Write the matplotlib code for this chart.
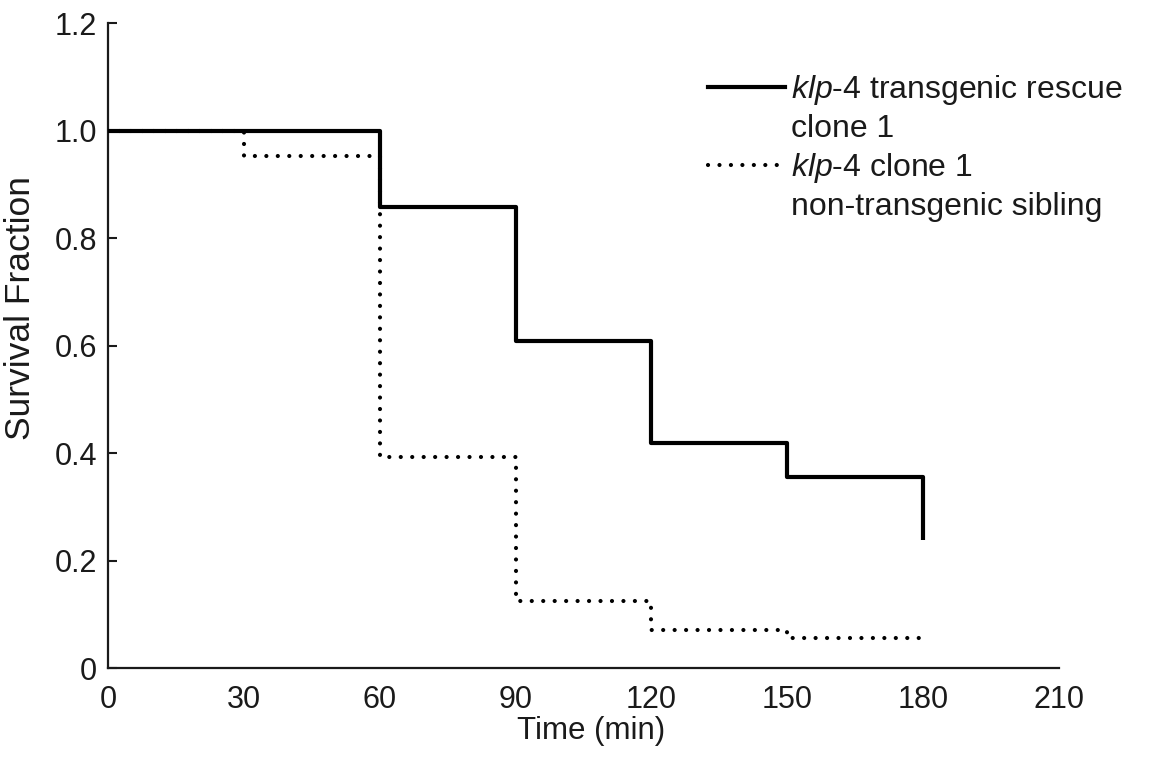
import matplotlib
matplotlib.use("Agg")
import matplotlib.pyplot as plt
from matplotlib.lines import Line2D

plt.rcParams['font.family'] = ['Liberation Sans', 'DejaVu Sans']
plt.rcParams['mathtext.fontset'] = 'custom'
plt.rcParams['mathtext.it'] = 'Liberation Sans:italic'
plt.rcParams['mathtext.rm'] = 'Liberation Sans'

# Data
rescue_time = [0, 60, 90, 120, 150, 180]
rescue_surv = [1.0, 0.857, 0.608, 0.419, 0.356, 0.239]
sibling_time = [0, 30, 60, 90, 120, 150, 180]
sibling_surv = [1.0, 0.952, 0.393, 0.125, 0.071, 0.056, 0.048]

x_ticks = [0, 30, 60, 90, 120, 150, 180, 210]
y_ticks = [0, 0.2, 0.4, 0.6, 0.8, 1.0, 1.2]
y_tick_labels = ["0", "0.2", "0.4", "0.6", "0.8", "1.0", "1.2"]

label_rescue = [r"$\mathit{klp}$-$\mathit{4}$ transgenic rescue", "clone 1"]
label_sibling = [r"$\mathit{klp}$-$\mathit{4}$ clone 1", "non-transgenic sibling"]

ink = '#1a1a1a'

fig = plt.figure(figsize=(11.74, 7.61), dpi=100)
ax = fig.add_axes([108/1174, 1 - 668/761, (1059-108)/1174, (668-23)/761])

dot_style = (0, (0.01, 2.74))
ax.step(sibling_time, sibling_surv, where='post', color='black', lw=3,
        linestyle=dot_style, dash_capstyle='round', zorder=2)
ax.step(rescue_time, rescue_surv, where='post', color='black', lw=3,
        solid_capstyle='butt', zorder=3)

ax.set_xlim(0, 210)
ax.set_ylim(0, 1.2)
ax.set_xticks(x_ticks)
ax.set_xticklabels([str(t) for t in x_ticks])
ax.set_yticks(y_ticks)
ax.set_yticklabels(y_tick_labels)

for s in ['top', 'right']:
    ax.spines[s].set_visible(False)
for s in ['left', 'bottom']:
    ax.spines[s].set_linewidth(1.6)
    ax.spines[s].set_color(ink)

ax.tick_params(axis='x', length=0, pad=12, labelsize=22, labelcolor=ink)
ax.tick_params(axis='y', direction='in', length=6.5, width=1.5, color=ink,
               pad=8, labelsize=22, labelcolor=ink)

ax.set_xlabel("Time (min)", fontsize=22.5, color=ink)
ax.xaxis.set_label_coords(0.508, -0.074)
ax.xaxis.label.set_va('top')
ax.set_ylabel("Survival Fraction", fontsize=25.5, color=ink)
ax.yaxis.set_label_coords(-0.075, 0.558)

handles = [
    Line2D([], [], color='black', lw=3),
    Line2D([], [], color='none'),
    Line2D([], [], color='black', lw=3, linestyle=dot_style, dash_capstyle='round'),
    Line2D([], [], color='none'),
]
labels = [label_rescue[0], label_rescue[1], label_sibling[0], label_sibling[1]]
leg = ax.legend(handles, labels, loc='upper left',
                bbox_to_anchor=((708-108)/951, (668-73)/645),
                frameon=False, fontsize=23, handlelength=2.4,
                handletextpad=0.2, labelspacing=0.22, borderpad=0,
                borderaxespad=0)
for t in leg.get_texts():
    t.set_color(ink)

fig.savefig("out.png", dpi=100)
